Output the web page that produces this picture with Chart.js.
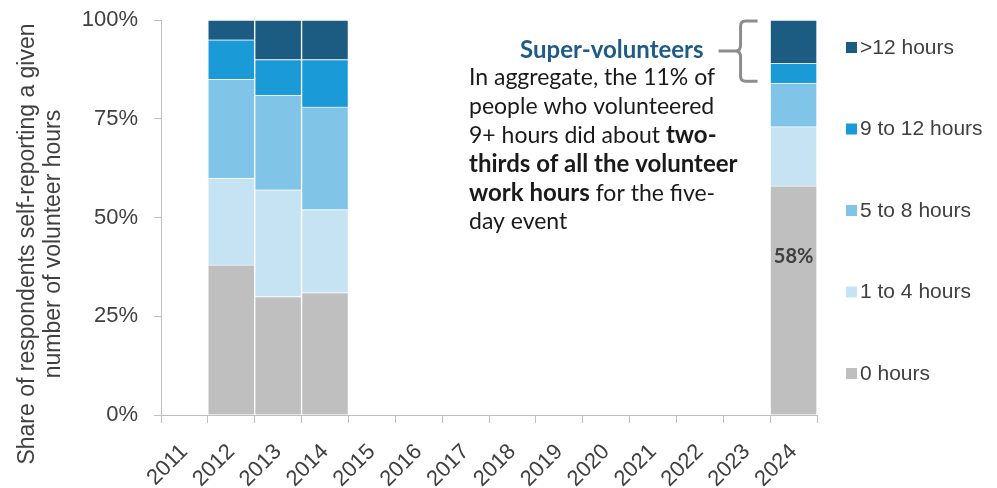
<!DOCTYPE html>
<html lang="en">
<head>
    <meta charset="UTF-8">
    <title>Super-volunteers</title>
    <script src="https://cdn.jsdelivr.net/npm/chart.js"></script>
    <style>
        body {
            margin: 0;
            background-color: #ffffff;
        }

        .chart-box {
            width: 997px;
            height: 488px;
        }
    </style>
</head>
<body>
    <div class="chart-box">
        <canvas id="hoursChart"></canvas>
    </div>

    <script>
        // Survey years and share of respondents per hours bracket (%)
        const years = ['2011', '2012', '2013', '2014', '2015', '2016', '2017', '2018', '2019', '2020', '2021', '2022', '2023', '2024'];
        const zeroHours    = [null, 38, 30, 31, null, null, null, null, null, null, null, null, null, 58];
        const oneToFour    = [null, 22, 27, 21, null, null, null, null, null, null, null, null, null, 15];
        const fiveToEight  = [null, 25, 24, 26, null, null, null, null, null, null, null, null, null, 11];
        const nineToTwelve = [null, 10,  9, 12, null, null, null, null, null, null, null, null, null,  5];
        const overTwelve   = [null,  5, 10, 10, null, null, null, null, null, null, null, null, null, 11];
        const yTicks = [0, 25, 50, 75, 100];

        const seriesLabels = ['0 hours', '1 to 4 hours', '5 to 8 hours', '9 to 12 hours', '>12 hours'];
        const seriesColors = ['#bfbfbf', '#c6e3f4', '#80c5e8', '#1a9ad6', '#1c5b82'];
        const seriesData = [zeroHours, oneToFour, fiveToEight, nineToTwelve, overTwelve];
        const yTitle = ['Share of respondents self-reporting a given', 'number of volunteer hours'];

        const textColor = '#404040';
        const axisFont = { family: 'Liberation Sans', size: 22 };

        // Legend on the right, top item first
        const sideLegend = {
            id: 'sideLegend',
            afterDraw(chart) {
                const ctx = chart.ctx;
                const area = chart.chartArea;
                ctx.save();
                ctx.font = '21px "Liberation Sans"';
                ctx.textBaseline = 'middle';
                ctx.textAlign = 'left';
                const sets = chart.data.datasets.slice().reverse();
                sets.forEach((ds, i) => {
                    const y = area.top + 28 + i * 81.5;
                    ctx.fillStyle = ds.backgroundColor;
                    ctx.fillRect(area.right + 29, y - 6, 11, 11);
                    ctx.fillStyle = textColor;
                    ctx.fillText(ds.label, area.right + 43, y);
                });
                ctx.restore();
            }
        };

        // Rotated y-axis title, sits a bit below the plot centre as in the source
        const yAxisTitle = {
            id: 'yAxisTitle',
            afterDraw(chart) {
                const ctx = chart.ctx;
                ctx.save();
                ctx.font = '23px "Liberation Sans"';
                ctx.fillStyle = textColor;
                ctx.textAlign = 'center';
                ctx.textBaseline = 'middle';
                ctx.translate(0, 244);
                ctx.rotate(-Math.PI / 2);
                yTitle.forEach((line, i) => ctx.fillText(line, 0, 28 + i * 26));
                ctx.restore();
            }
        };

        // Callout text, brace and the 58% label
        const callout = {
            id: 'callout',
            afterDraw(chart) {
                const ctx = chart.ctx;
                const xs = chart.scales.x;
                const ys = chart.scales.y;
                const last = years.length - 1;
                ctx.save();

                // value label on the 2024 gray bar
                ctx.font = 'bold 20px Lato';
                ctx.fillStyle = textColor;
                ctx.textAlign = 'center';
                ctx.textBaseline = 'middle';
                ctx.fillText(zeroHours[last] + '%', xs.getPixelForValue(last), ys.getPixelForValue(40));

                // brace
                const bx = xs.getPixelForValue(last) - 53;
                const top = ys.getPixelForValue(100);
                const bottom = ys.getPixelForValue(84.5);
                const mid = top + 31;
                ctx.strokeStyle = '#8c8c8c';
                ctx.lineWidth = 3;
                ctx.beginPath();
                ctx.moveTo(bx + 17, top + 1);
                ctx.lineTo(bx + 5, top + 1);
                ctx.quadraticCurveTo(bx, top + 1, bx, top + 6);
                ctx.lineTo(bx, mid - 6);
                ctx.quadraticCurveTo(bx, mid, bx - 5, mid);
                ctx.quadraticCurveTo(bx, mid, bx, mid + 6);
                ctx.lineTo(bx, bottom - 5);
                ctx.quadraticCurveTo(bx, bottom, bx + 5, bottom);
                ctx.lineTo(bx + 17, bottom);
                ctx.moveTo(bx - 5, mid);
                ctx.lineTo(bx - 22, mid);
                ctx.stroke();

                // heading
                ctx.textAlign = 'right';
                ctx.font = 'bold 24px Lato';
                ctx.fillStyle = '#1f5b87';
                ctx.fillText('Super-volunteers', bx - 37, top + 30);

                // body text with bold runs
                const lines = [
                    [['In aggregate, the 11% of', false]],
                    [['people who volunteered', false]],
                    [['9+ hours did about ', false], ['two-', true]],
                    [['thirds of all the volunteer', true]],
                    [['work hours', true], [' for the five-', false]],
                    [['day event', false]]
                ];
                ctx.textAlign = 'left';
                ctx.fillStyle = '#1a1a1a';
                lines.forEach((parts, i) => {
                    let x = 469;
                    const y = top + 58 + i * 28.8;
                    parts.forEach(([txt, bold]) => {
                        ctx.font = bold ? 'bold 24px Lato' : '23px Lato';
                        ctx.fillText(txt, x, y);
                        x += ctx.measureText(txt).width;
                    });
                });
                ctx.restore();
            }
        };

        new Chart(document.getElementById('hoursChart').getContext('2d'), {
            type: 'bar',
            data: {
                labels: years,
                datasets: seriesData.map((values, i) => ({
                    label: seriesLabels[i],
                    data: values,
                    backgroundColor: seriesColors[i],
                    borderColor: 'rgba(255, 255, 255, 0.6)',
                    borderWidth: 1,
                    barPercentage: 1,
                    categoryPercentage: 1
                }))
            },
            options: {
                responsive: true,
                maintainAspectRatio: false,
                animation: false,
                layout: {
                    padding: { left: 0, right: 180, top: 20, bottom: 0 }
                },
                plugins: {
                    legend: { display: false },
                    tooltip: { enabled: false }
                },
                scales: {
                    x: {
                        stacked: true,
                        afterFit(scale) { scale.height = 73; },
                        grid: {
                            drawOnChartArea: false,
                            tickLength: 8,
                            color: '#bfbfbf'
                        },
                        border: { color: '#bfbfbf' },
                        ticks: {
                            color: textColor,
                            font: axisFont,
                            autoSkip: false,
                            minRotation: 45,
                            maxRotation: 45,
                            padding: 16
                        }
                    },
                    y: {
                        stacked: true,
                        min: 0,
                        max: 100,
                        afterFit(scale) {
                            scale.width = 161;
                            scale.paddingTop = 0;
                            scale.paddingBottom = 0;
                        },
                        afterBuildTicks(scale) {
                            scale.ticks = yTicks.map(v => ({ value: v }));
                        },
                        grid: {
                            drawOnChartArea: false,
                            tickLength: 7,
                            color: '#bfbfbf'
                        },
                        border: { color: '#bfbfbf' },
                        ticks: {
                            color: textColor,
                            font: axisFont,
                            padding: 16,
                            callback: v => v + '%'
                        }
                    }
                }
            },
            plugins: [sideLegend, yAxisTitle, callout]
        });
    </script>
</body>
</html>
